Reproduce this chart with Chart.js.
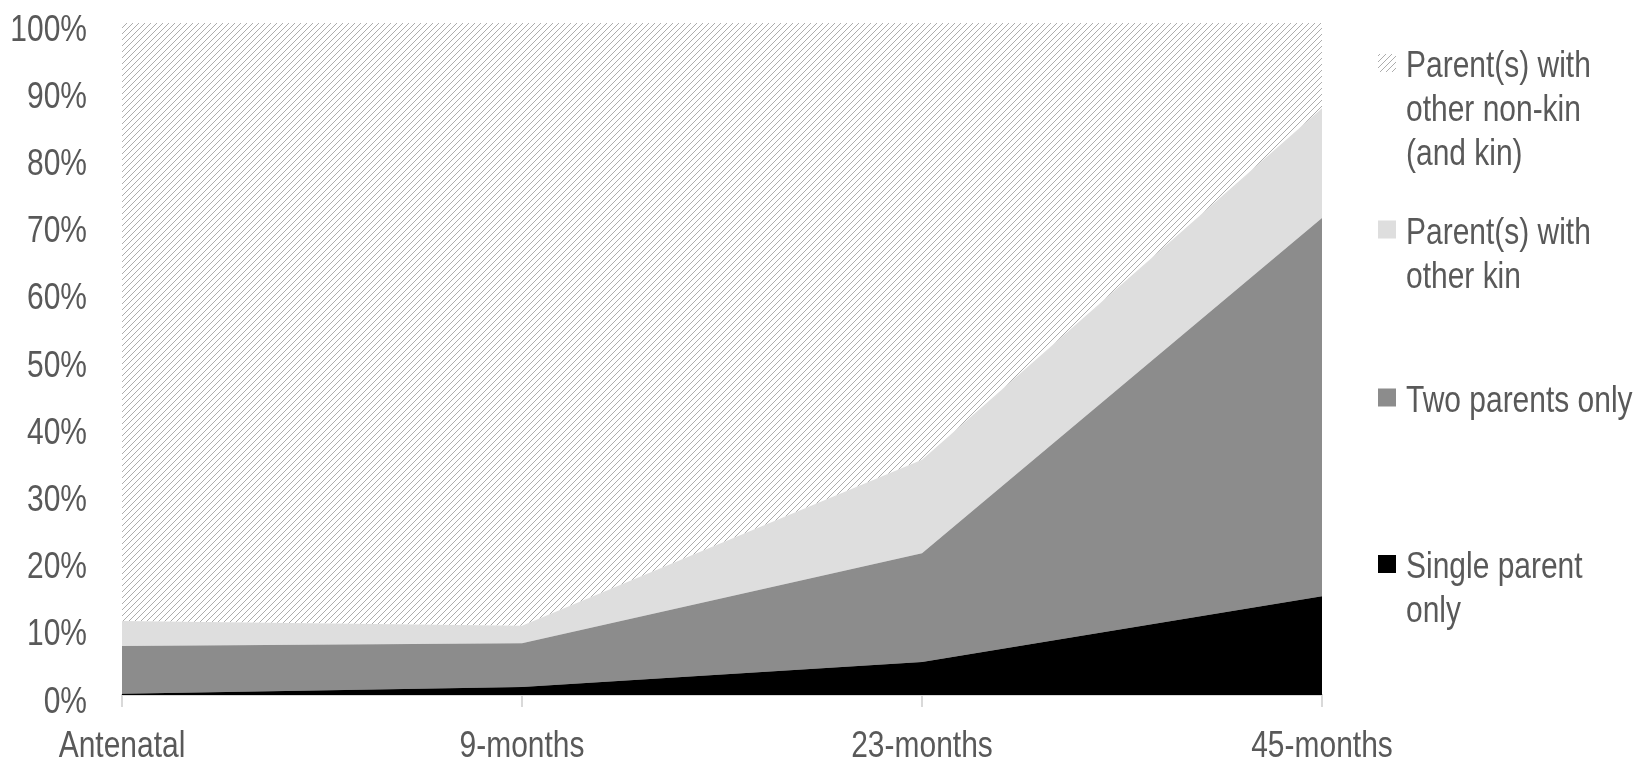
<!DOCTYPE html>
<html>
<head>
<meta charset="utf-8">
<script src="https://cdn.jsdelivr.net/npm/chart.js@4.4.1/dist/chart.umd.min.js"></script>
<style>
  html, body { margin: 0; padding: 0; background: #ffffff; }
  #wrap { width: 1650px; height: 762px; }
</style>
</head>
<body>
<div id="wrap"><canvas id="chart" width="1650" height="762"></canvas></div>
<script>
// Household composition by sweep (% of children), stacked to 100%
const categories = ['Antenatal', '9-months', '23-months', '45-months'];
const singleParentOnly = [0.2, 1.2, 4.9, 14.7];
const twoParentsOnly = [7.1, 6.5, 16.2, 56.3];
const parentsWithOtherKin = [3.7, 2.6, 13.9, 16.3];
const parentsWithNonKin = [89.0, 89.7, 65.0, 12.7];

const seriesLabels = [
  ['Single parent', 'only'],
  ['Two parents only'],
  ['Parent(s) with', 'other kin'],
  ['Parent(s) with', 'other non-kin', '(and kin)']
];

// Narrow sans: Liberation Sans squeezed horizontally
const FONT = '37px "Liberation Sans", Arial, sans-serif';
const SQUEEZE = 0.81;
const TEXT = '#595959';

// Diagonal hatch used for the non-kin band
function makeHatch() {
  const c = document.createElement('canvas');
  c.width = 6; c.height = 6;
  const g = c.getContext('2d');
  g.fillStyle = '#ffffff';
  g.fillRect(0, 0, 6, 6);
  g.strokeStyle = '#adadad';
  g.lineWidth = 1;
  g.beginPath();
  g.moveTo(-1, 7); g.lineTo(7, -1);
  g.moveTo(-1, 1); g.lineTo(1, -1);
  g.moveTo(5, 7); g.lineTo(7, 5);
  g.stroke();
  return g.createPattern(c, 'repeat');
}
const hatch = makeHatch();

const fills = ['#000000', '#8c8c8c', '#dedede', hatch];
const values = [singleParentOnly, twoParentsOnly, parentsWithOtherKin, parentsWithNonKin];

const datasets = values.map((v, i) => ({
  label: seriesLabels[i].join(' '),
  legendLines: seriesLabels[i],
  data: v,
  backgroundColor: fills[i],
  borderWidth: 0,
  pointRadius: 0,
  pointHoverRadius: 0,
  tension: 0,
  fill: i === 0 ? 'origin' : '-1'
}));

function narrowText(ctx, text, x, y, align) {
  ctx.save();
  ctx.translate(x, y);
  ctx.scale(SQUEEZE, 1);
  ctx.textAlign = align;
  ctx.fillText(text, 0, 0);
  ctx.restore();
}

// Axis tick labels in the condensed face, placed from the scales' own ticks
const axisLabels = {
  id: 'axisLabels',
  afterDraw(chart) {
    const ctx = chart.ctx;
    const xs = chart.scales.x;
    const ys = chart.scales.y;
    ctx.save();
    ctx.font = FONT;
    ctx.fillStyle = TEXT;
    ctx.textBaseline = 'alphabetic';
    ys.ticks.forEach((t, i) => {
      narrowText(ctx, t.label, ys.right - 35, ys.getPixelForTick(i) + 17.5, 'right');
    });
    xs.ticks.forEach((t, i) => {
      narrowText(ctx, t.label, xs.getPixelForTick(i), xs.top + 62, 'center');
    });
    ctx.restore();
  }
};

// Legend on the right, listed top band first
const sideLegend = {
  id: 'sideLegend',
  afterDraw(chart) {
    const ctx = chart.ctx;
    const capCenters = [565, 398.5, 230.5, 64];
    const lineGap = 44;
    ctx.save();
    ctx.font = FONT;
    ctx.textBaseline = 'alphabetic';
    chart.data.datasets.forEach((ds, i) => {
      const yc = capCenters[i];
      ctx.fillStyle = ds.backgroundColor;
      ctx.fillRect(1378, yc - 10, 18, 18);
      ctx.fillStyle = TEXT;
      ds.legendLines.forEach((line, k) => {
        narrowText(ctx, line, 1406, yc + 13.3 + k * lineGap, 'left');
      });
    });
    ctx.restore();
  }
};

new Chart(document.getElementById('chart'), {
  type: 'line',
  data: { labels: categories, datasets },
  plugins: [axisLabels, sideLegend],
  options: {
    responsive: false,
    animation: false,
    events: [],
    layout: { padding: { top: 23, right: 328, left: 0, bottom: 0 } },
    plugins: {
      legend: { display: false },
      tooltip: { enabled: false },
      filler: { propagate: false }
    },
    scales: {
      x: {
        offset: false,
        grid: {
          display: true,
          drawOnChartArea: false,
          drawTicks: true,
          tickLength: 12,
          color: '#d9d9d9',
          lineWidth: 2
        },
        border: { display: true, color: '#d9d9d9', width: 2 },
        ticks: { display: false, autoSkip: false, maxRotation: 0 },
        afterFit(scale) { scale.height = 67; }
      },
      y: {
        stacked: true,
        min: 0,
        max: 100,
        grid: { display: false, drawTicks: false },
        border: { display: false },
        ticks: {
          display: false,
          stepSize: 10,
          callback: v => v + '%'
        },
        afterFit(scale) { scale.width = 122; }
      }
    }
  }
});
</script>
</body>
</html>
